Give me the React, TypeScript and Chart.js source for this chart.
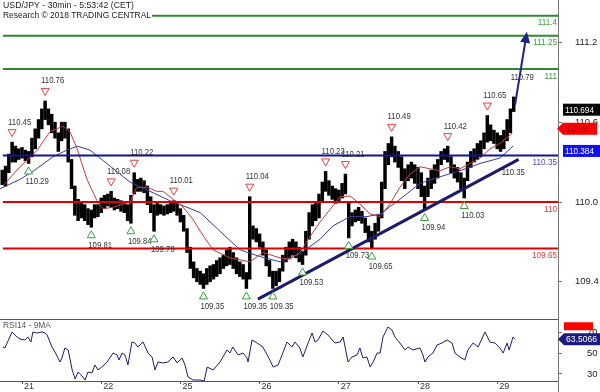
import React, { useEffect, useRef } from 'react';
import { Chart, registerables } from 'chart.js';

Chart.register(...registerables);

// ---------------- data ----------------
// hourly price bars (low / high), first bar at hour -6 (hours counted from the start of day 21)
const firstBarHour = -6;
const barLows = [
  110.13, 110.12, 110.22, 110.30, 110.30, 110.32, 110.33, 110.31, 110.29, 110.34,
  110.40, 110.48, 110.55, 110.62, 110.58, 110.52, 110.48, 110.38, 110.46, 110.48,
  110.30, 110.10, 109.90, 109.86, 109.88, 109.86, 109.83, 109.81, 109.88, 109.89,
  109.92, 109.95, 109.97, 109.96, 109.94, 109.95, 109.93, 109.92, 109.86, 109.84,
  110.06, 110.08, 110.08, 110.07, 109.98, 109.92, 109.78, 109.90, 109.91, 109.90,
  109.91, 109.92, 109.93, 109.90, 109.85, 109.78, 109.62, 109.50, 109.43, 109.40,
  109.38, 109.35, 109.38, 109.40, 109.42, 109.44, 109.46, 109.50, 109.52, 109.53,
  109.50, 109.46, 109.44, 109.42, 109.35, 109.42, 109.72, 109.70, 109.66, 109.60,
  109.52, 109.44, 109.35, 109.37, 109.40, 109.48, 109.55, 109.58, 109.60, 109.58,
  109.55, 109.53, 109.60, 109.72, 109.82, 109.86, 109.88, 110.00, 110.08, 110.05,
  110.02, 109.99, 110.00, 110.03, 110.06, 109.73, 109.82, 109.85, 109.86, 109.84,
  109.77, 109.70, 109.65, 109.72, 109.78, 109.88, 110.10, 110.28, 110.34, 110.30,
  110.26, 110.16, 110.10, 110.16, 110.18, 110.14, 110.10, 110.04, 109.94, 110.04,
  110.10, 110.14, 110.18, 110.28, 110.32, 110.30, 110.22, 110.18, 110.15, 110.10,
  110.03, 110.16, 110.26, 110.30, 110.32, 110.34, 110.40, 110.45, 110.46, 110.44,
  110.40, 110.38, 110.40, 110.46, 110.52, 110.68,
];
const barHighs = [
  110.24, 110.27, 110.36, 110.45, 110.42, 110.40, 110.41, 110.39, 110.38, 110.48,
  110.55, 110.62, 110.70, 110.76, 110.70, 110.66, 110.60, 110.52, 110.60, 110.60,
  110.55, 110.32, 110.12, 110.02, 109.99, 109.98, 109.95, 109.94, 109.98, 109.98,
  110.03, 110.05, 110.06, 110.08, 110.03, 110.02, 110.01, 110.00, 109.98, 110.05,
  110.22, 110.17, 110.18, 110.16, 110.12, 110.04, 109.98, 109.99, 109.98, 109.97,
  109.98, 109.99, 110.01, 109.99, 109.95, 109.90, 109.80, 109.66, 109.55, 109.50,
  109.48, 109.46, 109.50, 109.52, 109.53, 109.56, 109.58, 109.60, 109.64, 109.66,
  109.62, 109.58, 109.55, 109.53, 109.47, 110.04, 109.82, 109.80, 109.76, 109.70,
  109.64, 109.56, 109.48, 109.48, 109.50, 109.60, 109.66, 109.70, 109.72, 109.70,
  109.66, 109.63, 109.78, 109.92, 109.98, 109.99, 110.06, 110.15, 110.23, 110.16,
  110.12, 110.10, 110.09, 110.14, 110.21, 110.00, 109.92, 109.94, 109.96, 109.93,
  109.88, 109.82, 109.78, 109.84, 109.90, 110.15, 110.38, 110.44, 110.49, 110.42,
  110.38, 110.34, 110.25, 110.28, 110.30, 110.28, 110.26, 110.22, 110.12, 110.18,
  110.24, 110.28, 110.32, 110.38, 110.40, 110.42, 110.34, 110.28, 110.26, 110.22,
  110.18, 110.30, 110.38, 110.40, 110.44, 110.46, 110.52, 110.65, 110.58, 110.54,
  110.52, 110.50, 110.54, 110.62, 110.70, 110.79,
];

// moving averages
const redMAHours = [-5.8, -0.6, 4.5, 8.5, 12.4, 14.5, 16.7, 19.7, 22.7, 24.5, 27.6, 30.6, 32.7, 34.8, 37.9, 40.9, 42.7, 45.8, 48.5, 51.8, 54, 57.9, 63, 69.1, 73, 78.2, 81.2, 84.2, 87.3, 90.3, 94.2, 96.4, 99.4, 102.4, 105.5, 108.5, 111.5, 114.5, 117.6, 120.6, 123.6, 126.7, 129.7, 132.7, 135.8, 138.8, 141.8, 144.8, 148.5];
const redMA = [110.12, 110.265, 110.386, 110.53, 110.57, 110.53, 110.40, 110.17, 110.01, 109.95, 109.96, 109.985, 110.0, 110.11, 110.11, 110.08, 110.08, 110.02, 109.97, 109.87, 109.78, 109.64, 109.58, 109.55, 109.62, 109.58, 109.57, 109.62, 109.74, 109.85, 109.97, 110.04, 110.045, 109.985, 109.91, 109.89, 109.985, 110.11, 110.21, 110.265, 110.25, 110.235, 110.265, 110.25, 110.29, 110.33, 110.40, 110.44, 110.515];
const blueMAHours = [-6.6, -0.6, 3.3, 9.4, 13.6, 16.7, 20.6, 26.7, 32.7, 38.8, 44.8, 50, 54, 60, 66.1, 72.1, 78.2, 84.2, 90.3, 94.2, 99.4, 104.5, 108.5, 114.5, 120.6, 126.7, 132.7, 138.8, 144.8, 148.8];
const blueMA = [110.10, 110.17, 110.23, 110.34, 110.39, 110.42, 110.39, 110.27, 110.15, 110.08, 110.01, 109.96, 109.92, 109.78, 109.64, 109.59, 109.55, 109.61, 109.72, 109.82, 109.89, 109.89, 109.91, 110.02, 110.14, 110.19, 110.235, 110.29, 110.33, 110.42];

// horizontal levels
const levelValues = [111.4, 111.25, 111, 110.35, 110, 109.65];
const levelLabels = ['111.4', '111.25', '111', '110.35', '110', '109.65'];
const levelStartHours = [39.4, -5.8, -5.8, -5.8, -5.8, -5.8];

// swing points
const highHours = [-3, 7, 27, 34, 46, 69, 92, 98, 112, 129, 141];
const highValues = [110.45, 110.76, 110.08, 110.22, 110.01, 110.04, 110.23, 110.21, 110.49, 110.42, 110.65];
const lowHours = [2, 21, 33, 40, 55, 68, 76, 85, 99, 106, 122, 134];
const lowValues = [110.29, 109.81, 109.84, 109.78, 109.35, 109.35, 109.35, 109.53, 109.73, 109.65, 109.94, 110.03];
const openHighHour = 149;
const openHighValue = 110.79;

// trend line, projection arrow
const trendHours = [71.5, 150.5];
const trendValues = [109.27, 110.32];
const trendLabel = '110.35';
const arrowHours = [149.4, 153];
const arrowValues = [110.73, 111.28];

// axis markers
const lastPrice = 110.694;
const redMarker = 110.55;
const blueMarker = 110.384;
const priceTicks = [109.4, 110.0, 110.6, 111.2];

// RSI
const rsiHours = [-5.8, -5.2, -3.0, -1.5, -0.6, 0.9, 1.8, 2.7, 3.3, 4.5, 6.1, 7.0, 7.6, 9.1, 10.0, 11.5, 12.1, 13.0, 14.0, 15.2, 16.1, 17.0, 18.2, 19.1, 20.0, 21.2, 22.1, 23.0, 24.2, 25.8, 27.6, 28.8, 29.4, 30.3, 31.2, 32.1, 33.3, 34.2, 35.1, 36.7, 38.2, 39.4, 40.3, 41.2, 42.7, 44.2, 45.8, 47.0, 48.5, 49.4, 50.3, 51.8, 54.0, 55.2, 56.1, 57.9, 60.0, 62.1, 63.0, 63.9, 65.5, 67.0, 68.2, 68.5, 69.7, 71.2, 73.0, 75.1, 76.1, 77.6, 78.8, 80.3, 81.8, 82.7, 84.2, 85.1, 86.7, 87.9, 88.8, 89.7, 91.2, 92.7, 94.8, 96.4, 97.3, 98.8, 100.0, 101.5, 102.4, 103.3, 104.5, 105.5, 106.4, 107.6, 108.5, 109.4, 110.9, 112.1, 113.0, 114.5, 116.1, 117.0, 118.5, 120.6, 121.5, 122.1, 123.0, 124.5, 125.8, 127.3, 128.8, 130.3, 131.2, 132.7, 134.2, 135.1, 136.7, 138.2, 140.3, 141.8, 143.3, 144.8, 145.8, 147.0, 147.6, 148.8, 149.4];
const rsiValues = [56.0, 55.1, 70.5, 65.7, 63.7, 62.8, 65.7, 60.8, 70.5, 69.5, 70.5, 69.5, 67.6, 56.0, 51.2, 41.6, 45.4, 55.1, 53.1, 33.9, 25.2, 31.9, 28.1, 24.2, 31.9, 31.0, 38.7, 33.9, 36.7, 41.6, 50.2, 48.3, 43.5, 50.2, 48.3, 38.7, 60.8, 59.9, 56.0, 60.8, 50.2, 46.4, 33.9, 41.6, 40.6, 41.6, 46.4, 40.6, 45.4, 38.7, 27.1, 24.2, 24.2, 23.3, 36.7, 33.9, 41.6, 53.1, 50.2, 56.0, 48.3, 50.2, 45.4, 41.6, 62.8, 59.9, 56.0, 43.5, 36.7, 38.7, 48.3, 60.8, 56.0, 60.8, 55.1, 46.4, 59.9, 69.5, 60.8, 62.8, 71.4, 67.6, 59.9, 60.8, 65.7, 41.6, 46.4, 48.3, 55.1, 45.4, 46.4, 36.7, 41.6, 50.2, 50.2, 65.7, 75.3, 72.4, 65.7, 59.9, 53.1, 56.0, 53.1, 55.1, 48.3, 41.6, 46.4, 50.2, 58.0, 59.9, 62.8, 59.9, 50.2, 46.4, 43.5, 53.1, 59.9, 56.0, 70.5, 60.8, 59.9, 55.1, 50.2, 59.9, 53.1, 65.7, 63.5];
const rsiLast = 63.5066;
const rsiRedMark = 76;
const rsiTicks = [30, 50, 70];

// x axis
const dayHours = [0, 24, 48, 72, 96, 120, 144];
const dayLabels = ['21', '22', '25', '26', '27', '28', '29'];

// ---------------- layout / style ----------------
const X_MIN = -6.67;
const X_MAX = 162.42;
const PRICE_MIN = 109.1203;
const PRICE_MAX = 111.5188;
const RSI_MIN = 23.25;
const RSI_MAX = 83;
const AXIS_W = 42;

const FONT = '"Liberation Sans", Arial, Helvetica, sans-serif';
const levelColors = ['#2a8c2a', '#2a8c2a', '#2a8c2a', '#12129a', '#e00000', '#e00000'];
const levelTextColors = ['#3c9c3c', '#3c9c3c', '#3c9c3c', '#4a4aa8', '#d43c3c', '#d43c3c'];
const AXIS_COLOR = '#777';

function txt(ctx: CanvasRenderingContext2D, text: string, x: number, y: number, align: CanvasTextAlign, color: string, size: number, squeeze = 0.86) {
  ctx.save();
  ctx.font = `${size}px ${FONT}`;
  ctx.fillStyle = color;
  ctx.textAlign = align;
  ctx.textBaseline = 'middle';
  const w = ctx.measureText(text).width;
  ctx.fillText(text, x, y, w * squeeze);
  ctx.restore();
}

function tri(ctx: CanvasRenderingContext2D, cx: number, cy: number, down: boolean, color: string) {
  ctx.save();
  ctx.beginPath();
  if (down) {
    ctx.moveTo(cx - 4, cy - 3.5); ctx.lineTo(cx + 4, cy - 3.5); ctx.lineTo(cx, cy + 3.5);
  } else {
    ctx.moveTo(cx - 4, cy + 3.5); ctx.lineTo(cx + 4, cy + 3.5); ctx.lineTo(cx, cy - 3.5);
  }
  ctx.closePath();
  ctx.fillStyle = '#fff';
  ctx.fill();
  ctx.strokeStyle = color;
  ctx.lineWidth = 1;
  ctx.stroke();
  ctx.restore();
}

function pointerBox(ctx: CanvasRenderingContext2D, tipX: number, bodyX: number, right: number, cy: number, h: number, fill: string) {
  ctx.beginPath();
  ctx.moveTo(tipX, cy);
  ctx.lineTo(bodyX, cy - h / 2);
  ctx.lineTo(right, cy - h / 2);
  ctx.lineTo(right, cy + h / 2);
  ctx.lineTo(bodyX, cy + h / 2);
  ctx.closePath();
  ctx.fillStyle = fill;
  ctx.fill();
}

const pricePlugin = {
  id: 'priceDecor',
  afterDatasetsDraw(chart: any) {
    const ctx: CanvasRenderingContext2D = chart.ctx;
    const xs = chart.scales.x;
    const ys = chart.scales.y;
    const px = (h: number) => xs.getPixelForValue(h);
    const py = (v: number) => ys.getPixelForValue(v);
    const area = chart.chartArea;

    // projection arrow
    const ax0 = px(arrowHours[0]), ay0 = py(arrowValues[0]);
    const ax1 = px(arrowHours[1]), ay1 = py(arrowValues[1]);
    const ang = Math.atan2(ay1 - ay0, ax1 - ax0);
    const headLen = 11, headW = 5;
    const col = '#1c2488';
    ctx.save();
    ctx.strokeStyle = col;
    ctx.lineWidth = 2;
    ctx.beginPath();
    ctx.moveTo(ax0, ay0);
    ctx.lineTo(ax1 - Math.cos(ang) * headLen * 0.8, ay1 - Math.sin(ang) * headLen * 0.8);
    ctx.stroke();
    const bx = ax1 - Math.cos(ang) * headLen, by = ay1 - Math.sin(ang) * headLen;
    ctx.fillStyle = col;
    ctx.beginPath();
    ctx.moveTo(ax1, ay1);
    ctx.lineTo(bx + Math.sin(ang) * headW, by - Math.cos(ang) * headW);
    ctx.lineTo(bx - Math.sin(ang) * headW, by + Math.cos(ang) * headW);
    ctx.closePath();
    ctx.fill();
    ctx.restore();

    // swing highs / lows
    highHours.forEach((h, i) => {
      const x = px(h), y = py(highValues[i]);
      tri(ctx, x, y - 9, true, '#e04040');
      txt(ctx, highValues[i].toFixed(2), x - 4, y - 20, 'left', '#333', 9);
    });
    lowHours.forEach((h, i) => {
      const x = px(h), y = py(lowValues[i]);
      tri(ctx, x, y + 7, false, '#35a035');
      txt(ctx, lowValues[i].toFixed(2), x - 3, y + 18, 'left', '#333', 9);
    });
    {
      const x = px(openHighHour), y = py(openHighValue);
      txt(ctx, openHighValue.toFixed(2), x - 3, y - 19, 'left', '#333', 9);
    }
    {
      const x = px(trendHours[1]), y = py(trendValues[1]);
      txt(ctx, trendLabel, x - 17, y + 13, 'left', '#333', 9);
    }

    // level labels
    levelValues.forEach((v, i) => {
      txt(ctx, levelLabels[i], area.right - 1, py(v) + 7, 'right', levelTextColors[i], 9.5);
    });
  },
  afterDraw(chart: any) {
    const ctx: CanvasRenderingContext2D = chart.ctx;
    const ys = chart.scales.y;
    const py = (v: number) => ys.getPixelForValue(v);
    // title
    ctx.save();
    ctx.font = `9px ${FONT}`;
    ctx.fillStyle = '#222';
    ctx.textBaseline = 'middle';
    ctx.textAlign = 'left';
    ctx.fillText('USD/JPY - 30min - 5:53:42 (CET)', 3, 6, 131);
    ctx.fillText('Research \u00A9 2018 TRADING CENTRAL', 3, 16, 148);
    ctx.restore();

    // axis markers
    ctx.save();
    let cy = py(lastPrice);
    ctx.fillStyle = '#000';
    ctx.fillRect(563, cy - 6, 37, 12);
    txt(ctx, lastPrice.toFixed(3), 565, cy + 0.5, 'left', '#fff', 9.5);

    cy = py(redMarker);
    pointerBox(ctx, 557, 563, 597, cy, 12, '#ff0000');
    txt(ctx, redMarker.toFixed(2), 566, cy + 0.5, 'left', '#b00000', 9.5);

    cy = py(blueMarker);
    ctx.fillStyle = '#1010f0';
    ctx.fillRect(563, cy - 6, 37, 12);
    txt(ctx, blueMarker.toFixed(3), 565, cy + 0.5, 'left', '#fff', 9.5);
    ctx.restore();
  },
};

const rsiPlugin = {
  id: 'rsiDecor',
  afterDraw(chart: any) {
    const ctx: CanvasRenderingContext2D = chart.ctx;
    const area = chart.chartArea;
    const ys = chart.scales.y;
    ctx.save();
    ctx.strokeStyle = '#555';
    ctx.lineWidth = 1;
    ctx.beginPath();
    ctx.moveTo(0, area.top + 0.5);
    ctx.lineTo(area.right, area.top + 0.5);
    ctx.stroke();
    ctx.strokeStyle = AXIS_COLOR;
    ctx.beginPath();
    ctx.moveTo(area.right + 0.5, area.bottom);
    ctx.lineTo(area.right + 0.5, chart.height);
    ctx.stroke();
    ctx.restore();

    txt(ctx, 'RSI14 - 9MA', 3, area.top + 6.5, 'left', '#555', 9, 0.93);

    ctx.save();
    const ry = ys.getPixelForValue(rsiRedMark);
    ctx.fillStyle = '#ff0000';
    ctx.fillRect(564, ry - 4, 29, 8);
    const cy = ys.getPixelForValue(rsiLast);
    pointerBox(ctx, 558, 564, 600, cy, 12, '#1c1c7c');
    ctx.restore();
    txt(ctx, rsiLast.toFixed(4), 566, cy + 0.5, 'left', '#fff', 9.5, 0.9);
  },
};

function yAxisFit(s: any) {
  s.width = AXIS_W;
  s.paddingTop = 0;
  s.paddingBottom = 0;
}

export default function App() {
  const priceRef = useRef<HTMLCanvasElement>(null);
  const rsiRef = useRef<HTMLCanvasElement>(null);

  useEffect(() => {
    const bars = barLows.map((lo, i) => ({ x: firstBarHour + i, y: [lo, barHighs[i]] }));
    const levelSets = levelValues.map((v, i) => ({
      type: 'line' as const,
      data: [{ x: levelStartHours[i], y: v }, { x: X_MAX, y: v }],
      borderColor: levelColors[i],
      borderWidth: 2,
      pointRadius: 0,
      order: 1,
    }));

    const price = new Chart(priceRef.current as HTMLCanvasElement, {
      type: 'bar',
      data: {
        datasets: [
          {
            type: 'bar',
            data: bars as any,
            backgroundColor: '#000',
            borderWidth: 0,
            barThickness: 2.8,
            order: 4,
          } as any,
          {
            type: 'line',
            data: redMAHours.map((h, i) => ({ x: h, y: redMA[i] })),
            borderColor: '#c83a3a',
            borderWidth: 1,
            pointRadius: 0,
            order: 3,
          } as any,
          {
            type: 'line',
            data: blueMAHours.map((h, i) => ({ x: h, y: blueMA[i] })),
            borderColor: '#3a3aa0',
            borderWidth: 1,
            pointRadius: 0,
            order: 3,
          } as any,
          ...(levelSets as any[]),
          {
            type: 'line',
            data: trendHours.map((h, i) => ({ x: h, y: trendValues[i] })),
            borderColor: '#1b1b6b',
            borderWidth: 3,
            pointRadius: 0,
            order: 0,
          } as any,
        ],
      },
      options: {
        responsive: false,
        animation: false,
        devicePixelRatio: 1,
        events: [],
        layout: { padding: 0, autoPadding: false } as any,
        plugins: { legend: { display: false }, tooltip: { enabled: false }, title: { display: false } },
        scales: {
          x: { type: 'linear', min: X_MIN, max: X_MAX, display: false, offset: false, bounds: 'data' } as any,
          y: {
            type: 'linear',
            position: 'right',
            min: PRICE_MIN,
            max: PRICE_MAX,
            bounds: 'data',
            afterBuildTicks: (s: any) => { s.ticks = priceTicks.map((v) => ({ value: v })); },
            afterFit: yAxisFit,
            grid: { drawOnChartArea: false, drawTicks: true, tickLength: 4, color: AXIS_COLOR },
            border: { display: true, color: AXIS_COLOR, width: 1 },
            ticks: {
              callback: (v: any) => Number(v).toFixed(1),
              color: '#222',
              font: { family: FONT, size: 9.5 },
              padding: 13,
              autoSkip: false,
            },
          } as any,
        },
      },
      plugins: [pricePlugin],
    });

    const rsi = new Chart(rsiRef.current as HTMLCanvasElement, {
      type: 'line',
      data: {
        datasets: [
          {
            data: rsiHours.map((h, i) => ({ x: h, y: rsiValues[i] })),
            borderColor: '#1c1c6b',
            borderWidth: 1,
            pointRadius: 0,
            tension: 0,
          },
        ],
      },
      options: {
        responsive: false,
        animation: false,
        devicePixelRatio: 1,
        events: [],
        layout: { padding: 0, autoPadding: false } as any,
        plugins: { legend: { display: false }, tooltip: { enabled: false } },
        scales: {
          x: {
            type: 'linear',
            min: X_MIN,
            max: X_MAX,
            offset: false,
            bounds: 'data',
            afterBuildTicks: (s: any) => { s.ticks = dayHours.map((v) => ({ value: v })); },
            afterFit: (s: any) => { s.height = 11; s.paddingLeft = 0; s.paddingRight = 0; },
            grid: { drawOnChartArea: false, drawTicks: true, tickLength: 3, color: '#555' },
            border: { display: true, color: '#555', width: 1 },
            ticks: {
              callback: (_v: any, i: number) => dayLabels[i],
              align: 'start',
              labelOffset: 2,
              padding: -2,
              maxRotation: 0,
              autoSkip: false,
              color: '#333',
              font: { family: FONT, size: 9, lineHeight: 1 },
            },
          } as any,
          y: {
            type: 'linear',
            position: 'right',
            min: RSI_MIN,
            max: RSI_MAX,
            bounds: 'data',
            afterBuildTicks: (s: any) => { s.ticks = rsiTicks.map((v) => ({ value: v })); },
            afterFit: yAxisFit,
            grid: { drawOnChartArea: false, drawTicks: true, tickLength: 4, color: AXIS_COLOR },
            border: { display: true, color: AXIS_COLOR, width: 1 },
            ticks: {
              callback: (v: any) => String(v),
              color: '#222',
              font: { family: FONT, size: 9.5 },
              padding: 25,
              autoSkip: false,
            },
          } as any,
        },
      },
      plugins: [rsiPlugin],
    });

    return () => {
      price.destroy();
      rsi.destroy();
    };
  }, []);

  return (
    <div style={{ position: 'fixed', left: 0, top: 0, width: 600, height: 392, background: '#fff', overflow: 'hidden' }}>
      <canvas ref={priceRef} width={600} height={319} style={{ position: 'absolute', left: 0, top: 0, width: 600, height: 319 }} />
      <canvas ref={rsiRef} width={600} height={73} style={{ position: 'absolute', left: 0, top: 319, width: 600, height: 73 }} />
    </div>
  );
}
